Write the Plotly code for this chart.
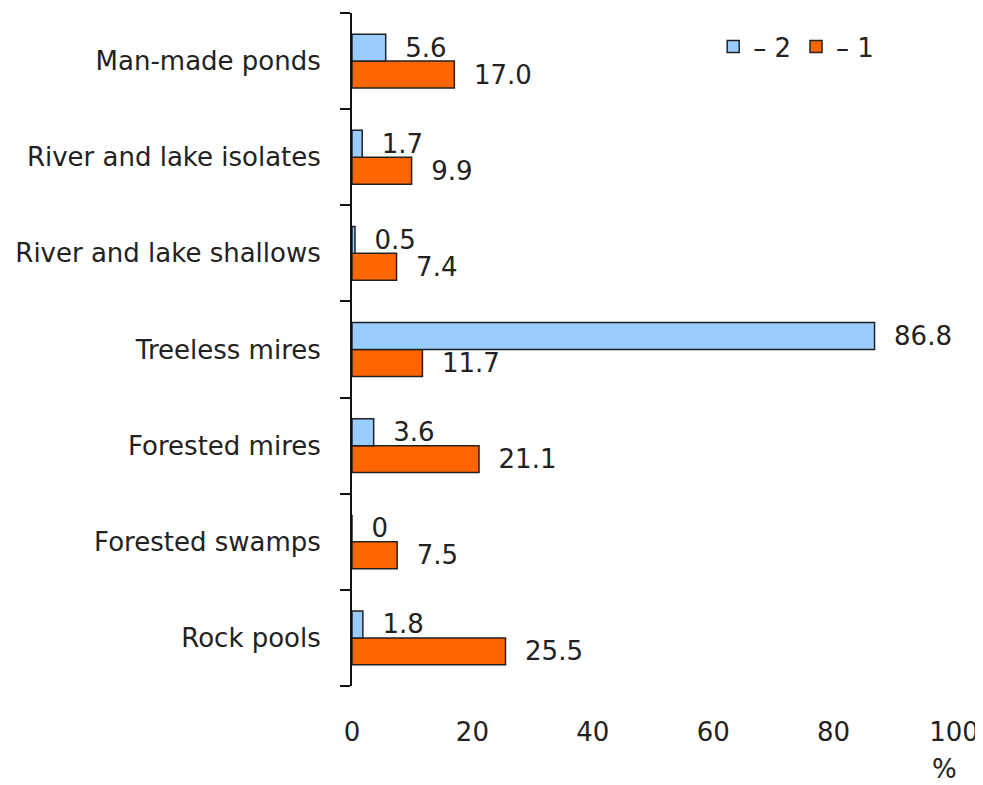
import plotly.graph_objects as go

categories = ["Man-made ponds", "River and lake isolates", "River and lake shallows",
              "Treeless mires", "Forested mires", "Forested swamps", "Rock pools"]
series_2 = [5.6, 1.7, 0.5, 86.8, 3.6, 0, 1.8]
series_1 = [17.0, 9.9, 7.4, 11.7, 21.1, 7.5, 25.5]
series_names = ["– 2", "– 1"]
x_ticks = [0, 20, 40, 60, 80, 100]

FONT = "DejaVu Sans"
TXT = "#222222"
FS = 26


def fmt(v):
    return "  " + ("0" if v == 0 else f"{v:.1f}")


fig = go.Figure()
# trace order: first trace sits lowest within a horizontal group
fig.add_trace(go.Bar(
    y=categories, x=series_1, orientation="h", name=series_names[1],
    marker=dict(color="#FF6600", line=dict(color="#222222", width=1.5)),
    text=[fmt(v) for v in series_1], textposition="outside", constraintext="none",
    textfont=dict(family=FONT, size=FS, color=TXT), cliponaxis=False,
))
fig.add_trace(go.Bar(
    y=categories, x=series_2, orientation="h", name=series_names[0],
    marker=dict(color="#99CCFF", line=dict(color="#222222", width=1.5)),
    text=[fmt(v) for v in series_2], textposition="outside", constraintext="none",
    textfont=dict(family=FONT, size=FS, color=TXT), cliponaxis=False,
))

fig.update_layout(
    width=975, height=777,
    margin=dict(l=344, r=29, t=5, b=99),
    paper_bgcolor="white", plot_bgcolor="white",
    barmode="group", bargap=0.44, bargroupgap=0,
    font=dict(family=FONT, size=FS, color=TXT),
    showlegend=True,
    legend=dict(orientation="h", x=0.6, y=0.985, xanchor="left", yanchor="top",
                traceorder="reversed", font=dict(family=FONT, size=FS, color=TXT),
                bgcolor="rgba(0,0,0,0)", itemwidth=30),
    xaxis=dict(range=[0, 100], tickvals=x_ticks, showline=False, showgrid=False,
               zeroline=False, ticks="", ticklabelstandoff=28,
               tickfont=dict(family=FONT, size=FS, color=TXT)),
    yaxis=dict(categoryorder="array", categoryarray=categories[::-1],
               showline=True, linecolor="#111111", linewidth=2,
               ticks="outside", ticklen=10, tickcolor="#111111", tickwidth=2,
               tickson="boundaries", showgrid=False, zeroline=False,
               ticklabelstandoff=24,
               tickfont=dict(family=FONT, size=FS, color=TXT)),
    annotations=[dict(text="%", xref="paper", yref="paper", x=0.985, y=-0.124,
                      xanchor="center", yanchor="middle", showarrow=False,
                      font=dict(family=FONT, size=FS, color=TXT))],
)

fig.write_html("out.html")
